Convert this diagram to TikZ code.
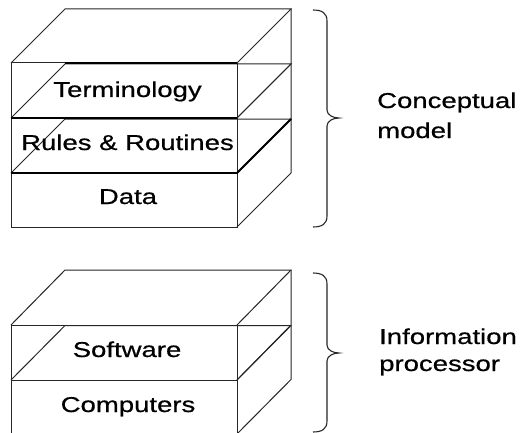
\documentclass[tikz,border=0pt]{standalone}
\usepackage{fontspec}
\newfontfamily\labfont[FakeStretch=1.28,FakeBold=0.6]{Liberation Sans}
\begin{document}
\begin{tikzpicture}[x=1pt,y=-1pt,
  edge/.style={draw=black!85,line width=1pt,line join=miter},
  thickedge/.style={draw=black,line width=1.9pt},
  brace/.style={draw=black!85,line width=1.1pt},
  lab/.style={font=\labfont\fontsize{21.5}{26}\selectfont,inner sep=0pt,anchor=base},
  side/.style={font=\labfont\fontsize{21.5}{26}\selectfont,inner sep=0pt,anchor=base west}]
\useasboundingbox (0,0) rectangle (524,433);
\clip (0,0) rectangle (524,433);
\fill[white] (0,0) rectangle (524,433);
% slab: #1 top, #2 bottom, #3 depth
\newcommand\slab[3]{%
  \draw[edge] (11,#1) rectangle (237,#2);
  \draw[edge] (11,#1) -- (11+54,#1-#3) -- (237+54,#1-#3) -- (237,#1);
  \draw[edge] (237+54,#1-#3) -- (237+54,#2-#3) -- (237,#2);
}
% upper stack
\slab{63}{118}{54}
\slab{118}{173}{54}
\slab{173}{227}{54}
\draw[thickedge] (65,63) -- (237,63);
\draw[thickedge] (11,118) -- (237,118);
\draw[thickedge] (11,173) -- (237,173) -- (291,119);
% lower stack
\slab{325}{380}{55}
\slab{380}{434}{54.5}
% labels
\node[lab] (term) at (127.5,97) {Terminology};
\node[lab] (rules) at (127.5,150) {Rules \& Routines};
\node[lab] (data) at (128,204) {Data};
\node[lab] (soft) at (127,357) {Software};
\node[lab] (comp) at (128,412) {Computers};
% braces
\draw[brace] (313,10) .. controls (322,10) and (327,13) .. (327,21) -- (327,110)
  .. controls (327,115) and (333,118) .. (339,118)
  .. controls (333,118) and (327,121) .. (327,126) -- (327,216)
  .. controls (327,224) and (322,227) .. (313,227);
\draw[brace] (313,273) .. controls (322,273) and (327,276) .. (327,284) -- (327,345)
  .. controls (327,350) and (333,353) .. (339,353)
  .. controls (333,353) and (327,356) .. (327,361) -- (327,421)
  .. controls (327,429) and (322,432) .. (313,432);
\node[side] (cm1) at (377,108) {Conceptual};
\node[side] (cm2) at (377,138) {model};
\node[side] (ip1) at (379,344) {Information};
\node[side] (ip2) at (379,371) {processor};
\end{tikzpicture}
\end{document}
